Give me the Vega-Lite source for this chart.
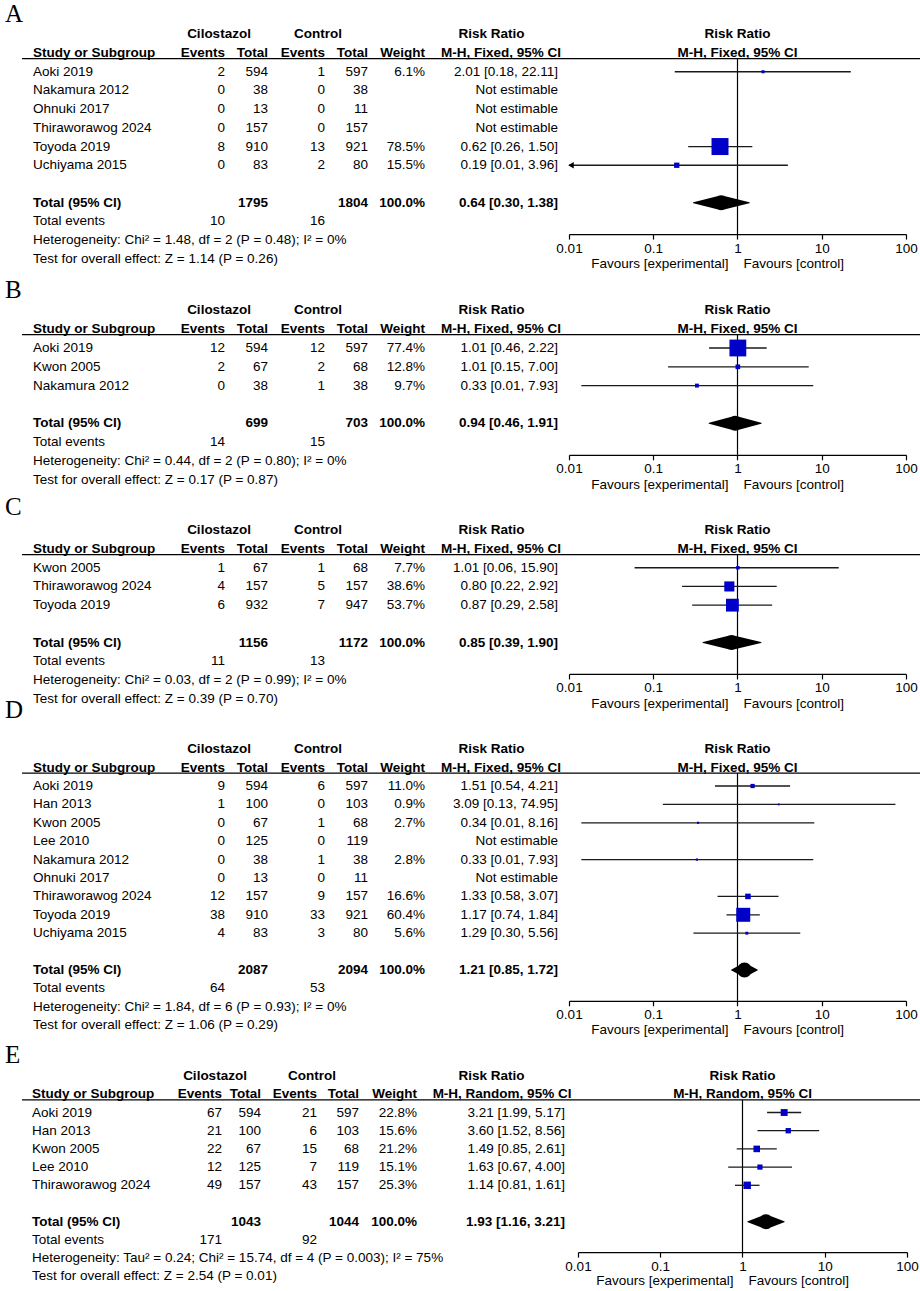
{
"$schema":"https://vega.github.io/schema/vega-lite/v6.json",
"background":"white",
"padding":{"left":5,"top":2,"right":0,"bottom":0},
"config":{"view":{"stroke":null},"text":{"font":"Liberation Sans","fontSize":13.5,"color":"#000","baseline":"middle"},"rule":{"color":"#000","strokeWidth":1.2}},
"datasets":{"t":[
{"p":"A","line":"h1","kind":"h1","e1":"Cilostazol","e2":"Control","ci":"Risk Ratio"},
{"p":"A","line":"h2","kind":"h2","s":"Study or Subgroup","e1":"Events","n1":"Total","e2":"Events","n2":"Total","w":"Weight","ci":"M-H, Fixed, 95% CI"},
{"p":"A","line":"Aoki 2019","kind":"study","s":"Aoki 2019","e1":2,"n1":594,"e2":1,"n2":597,"w":0.061,"ci":"2.01 [0.18, 22.11]","rr":2.01,"lo":0.18,"hi":22.11},
{"p":"A","line":"Nakamura 2012","kind":"study","s":"Nakamura 2012","e1":0,"n1":38,"e2":0,"n2":38,"ci":"Not estimable"},
{"p":"A","line":"Ohnuki 2017","kind":"study","s":"Ohnuki 2017","e1":0,"n1":13,"e2":0,"n2":11,"ci":"Not estimable"},
{"p":"A","line":"Thiraworawog 2024","kind":"study","s":"Thiraworawog 2024","e1":0,"n1":157,"e2":0,"n2":157,"ci":"Not estimable"},
{"p":"A","line":"Toyoda 2019","kind":"study","s":"Toyoda 2019","e1":8,"n1":910,"e2":13,"n2":921,"w":0.785,"ci":"0.62 [0.26, 1.50]","rr":0.62,"lo":0.26,"hi":1.5},
{"p":"A","line":"Uchiyama 2015","kind":"study","s":"Uchiyama 2015","e1":0,"n1":83,"e2":2,"n2":80,"w":0.155,"ci":"0.19 [0.01, 3.96]","rr":0.19,"lo":0.009,"hi":3.96},
{"p":"A","line":"total","kind":"total","s":"Total (95% CI)","n1":1795,"n2":1804,"w":1,"ci":"0.64 [0.30, 1.38]","rr":0.64,"lo":0.3,"hi":1.38},
{"p":"A","line":"events","kind":"events","s":"Total events","e1":10,"e2":16},
{"p":"A","line":"het","kind":"note","s":"Heterogeneity: Chi² = 1.48, df = 2 (P = 0.48); I² = 0%"},
{"p":"A","line":"test","kind":"note","s":"Test for overall effect: Z = 1.14 (P = 0.26)"},
{"p":"B","line":"h1","kind":"h1","e1":"Cilostazol","e2":"Control","ci":"Risk Ratio"},
{"p":"B","line":"h2","kind":"h2","s":"Study or Subgroup","e1":"Events","n1":"Total","e2":"Events","n2":"Total","w":"Weight","ci":"M-H, Fixed, 95% CI"},
{"p":"B","line":"Aoki 2019","kind":"study","s":"Aoki 2019","e1":12,"n1":594,"e2":12,"n2":597,"w":0.774,"ci":"1.01 [0.46, 2.22]","rr":1.01,"lo":0.46,"hi":2.22},
{"p":"B","line":"Kwon 2005","kind":"study","s":"Kwon 2005","e1":2,"n1":67,"e2":2,"n2":68,"w":0.128,"ci":"1.01 [0.15, 7.00]","rr":1.01,"lo":0.15,"hi":7.0},
{"p":"B","line":"Nakamura 2012","kind":"study","s":"Nakamura 2012","e1":0,"n1":38,"e2":1,"n2":38,"w":0.097,"ci":"0.33 [0.01, 7.93]","rr":0.33,"lo":0.014,"hi":7.93},
{"p":"B","line":"total","kind":"total","s":"Total (95% CI)","n1":699,"n2":703,"w":1,"ci":"0.94 [0.46, 1.91]","rr":0.94,"lo":0.46,"hi":1.91},
{"p":"B","line":"events","kind":"events","s":"Total events","e1":14,"e2":15},
{"p":"B","line":"het","kind":"note","s":"Heterogeneity: Chi² = 0.44, df = 2 (P = 0.80); I² = 0%"},
{"p":"B","line":"test","kind":"note","s":"Test for overall effect: Z = 0.17 (P = 0.87)"},
{"p":"C","line":"h1","kind":"h1","e1":"Cilostazol","e2":"Control","ci":"Risk Ratio"},
{"p":"C","line":"h2","kind":"h2","s":"Study or Subgroup","e1":"Events","n1":"Total","e2":"Events","n2":"Total","w":"Weight","ci":"M-H, Fixed, 95% CI"},
{"p":"C","line":"Kwon 2005","kind":"study","s":"Kwon 2005","e1":1,"n1":67,"e2":1,"n2":68,"w":0.077,"ci":"1.01 [0.06, 15.90]","rr":1.01,"lo":0.06,"hi":15.9},
{"p":"C","line":"Thiraworawog 2024","kind":"study","s":"Thiraworawog 2024","e1":4,"n1":157,"e2":5,"n2":157,"w":0.386,"ci":"0.80 [0.22, 2.92]","rr":0.8,"lo":0.22,"hi":2.92},
{"p":"C","line":"Toyoda 2019","kind":"study","s":"Toyoda 2019","e1":6,"n1":932,"e2":7,"n2":947,"w":0.537,"ci":"0.87 [0.29, 2.58]","rr":0.87,"lo":0.29,"hi":2.58},
{"p":"C","line":"total","kind":"total","s":"Total (95% CI)","n1":1156,"n2":1172,"w":1,"ci":"0.85 [0.39, 1.90]","rr":0.85,"lo":0.39,"hi":1.9},
{"p":"C","line":"events","kind":"events","s":"Total events","e1":11,"e2":13},
{"p":"C","line":"het","kind":"note","s":"Heterogeneity: Chi² = 0.03, df = 2 (P = 0.99); I² = 0%"},
{"p":"C","line":"test","kind":"note","s":"Test for overall effect: Z = 0.39 (P = 0.70)"},
{"p":"D","line":"h1","kind":"h1","e1":"Cilostazol","e2":"Control","ci":"Risk Ratio"},
{"p":"D","line":"h2","kind":"h2","s":"Study or Subgroup","e1":"Events","n1":"Total","e2":"Events","n2":"Total","w":"Weight","ci":"M-H, Fixed, 95% CI"},
{"p":"D","line":"Aoki 2019","kind":"study","s":"Aoki 2019","e1":9,"n1":594,"e2":6,"n2":597,"w":0.11,"ci":"1.51 [0.54, 4.21]","rr":1.51,"lo":0.54,"hi":4.21},
{"p":"D","line":"Han 2013","kind":"study","s":"Han 2013","e1":1,"n1":100,"e2":0,"n2":103,"w":0.009,"ci":"3.09 [0.13, 74.95]","rr":3.09,"lo":0.13,"hi":74.95},
{"p":"D","line":"Kwon 2005","kind":"study","s":"Kwon 2005","e1":0,"n1":67,"e2":1,"n2":68,"w":0.027,"ci":"0.34 [0.01, 8.16]","rr":0.34,"lo":0.014,"hi":8.16},
{"p":"D","line":"Lee 2010","kind":"study","s":"Lee 2010","e1":0,"n1":125,"e2":0,"n2":119,"ci":"Not estimable"},
{"p":"D","line":"Nakamura 2012","kind":"study","s":"Nakamura 2012","e1":0,"n1":38,"e2":1,"n2":38,"w":0.028,"ci":"0.33 [0.01, 7.93]","rr":0.33,"lo":0.014,"hi":7.93},
{"p":"D","line":"Ohnuki 2017","kind":"study","s":"Ohnuki 2017","e1":0,"n1":13,"e2":0,"n2":11,"ci":"Not estimable"},
{"p":"D","line":"Thiraworawog 2024","kind":"study","s":"Thiraworawog 2024","e1":12,"n1":157,"e2":9,"n2":157,"w":0.166,"ci":"1.33 [0.58, 3.07]","rr":1.33,"lo":0.58,"hi":3.07},
{"p":"D","line":"Toyoda 2019","kind":"study","s":"Toyoda 2019","e1":38,"n1":910,"e2":33,"n2":921,"w":0.604,"ci":"1.17 [0.74, 1.84]","rr":1.17,"lo":0.74,"hi":1.84},
{"p":"D","line":"Uchiyama 2015","kind":"study","s":"Uchiyama 2015","e1":4,"n1":83,"e2":3,"n2":80,"w":0.056,"ci":"1.29 [0.30, 5.56]","rr":1.29,"lo":0.3,"hi":5.56},
{"p":"D","line":"total","kind":"total","s":"Total (95% CI)","n1":2087,"n2":2094,"w":1,"ci":"1.21 [0.85, 1.72]","rr":1.21,"lo":0.85,"hi":1.72},
{"p":"D","line":"events","kind":"events","s":"Total events","e1":64,"e2":53},
{"p":"D","line":"het","kind":"note","s":"Heterogeneity: Chi² = 1.84, df = 6 (P = 0.93); I² = 0%"},
{"p":"D","line":"test","kind":"note","s":"Test for overall effect: Z = 1.06 (P = 0.29)"},
{"p":"E","line":"h1","kind":"h1","e1":"Cilostazol","e2":"Control","ci":"Risk Ratio"},
{"p":"E","line":"h2","kind":"h2","s":"Study or Subgroup","e1":"Events","n1":"Total","e2":"Events","n2":"Total","w":"Weight","ci":"M-H, Random, 95% CI"},
{"p":"E","line":"Aoki 2019","kind":"study","s":"Aoki 2019","e1":67,"n1":594,"e2":21,"n2":597,"w":0.228,"ci":"3.21 [1.99, 5.17]","rr":3.21,"lo":1.99,"hi":5.17},
{"p":"E","line":"Han 2013","kind":"study","s":"Han 2013","e1":21,"n1":100,"e2":6,"n2":103,"w":0.156,"ci":"3.60 [1.52, 8.56]","rr":3.6,"lo":1.52,"hi":8.56},
{"p":"E","line":"Kwon 2005","kind":"study","s":"Kwon 2005","e1":22,"n1":67,"e2":15,"n2":68,"w":0.212,"ci":"1.49 [0.85, 2.61]","rr":1.49,"lo":0.85,"hi":2.61},
{"p":"E","line":"Lee 2010","kind":"study","s":"Lee 2010","e1":12,"n1":125,"e2":7,"n2":119,"w":0.151,"ci":"1.63 [0.67, 4.00]","rr":1.63,"lo":0.67,"hi":4.0},
{"p":"E","line":"Thiraworawog 2024","kind":"study","s":"Thiraworawog 2024","e1":49,"n1":157,"e2":43,"n2":157,"w":0.253,"ci":"1.14 [0.81, 1.61]","rr":1.14,"lo":0.81,"hi":1.61},
{"p":"E","line":"total","kind":"total","s":"Total (95% CI)","n1":1043,"n2":1044,"w":1,"ci":"1.93 [1.16, 3.21]","rr":1.93,"lo":1.16,"hi":3.21},
{"p":"E","line":"events","kind":"events","s":"Total events","e1":171,"e2":92},
{"p":"E","line":"het","kind":"note","s":"Heterogeneity: Tau² = 0.24; Chi² = 15.74, df = 4 (P = 0.003); I² = 75%"},
{"p":"E","line":"test","kind":"note","s":"Test for overall effect: Z = 2.54 (P = 0.01)"}
]},
"data":{"name":"t"},
"columns":8,
"spacing":{"row":32,"column":0},
"align":"each",
"bounds":"flush",
"concat":[
{"width":148,"height":243.1,"transform":[{"filter":"datum.p==='A'"}],"layer":[
{"transform":[{"filter":"datum.kind!=='h1'"}],"mark":{"type":"text","align":"left","dx":11,"fontWeight":{"expr":"datum.kind==='h2'||datum.kind==='total'?'bold':'normal'"}},"encoding":{"x":{"datum":"Study","type":"nominal","scale":{"type":"point","padding":0,"align":0},"axis":null},"y":{"field":"line","type":"nominal","axis":null,"scale":{"type":"point","padding":0.5,"domain":["h1","h2","Aoki 2019","Nakamura 2012","Ohnuki 2017","Thiraworawog 2024","Toyoda 2019","Uchiyama 2015","blank","total","events","het","test"]}},"text":{"field":"s","type":"nominal"}}},
{"transform":[{"filter":"datum.kind==='h1'"}],"mark":{"type":"text","text":"A","align":"left","font":"Liberation Serif","fontSize":25,"dx":-17,"dy":-20},"encoding":{"x":{"datum":"Study","type":"nominal","axis":null},"y":{"field":"line","type":"nominal","axis":null}}},
{"transform":[{"filter":"datum.kind==='h2'"}],"mark":{"type":"rule","yOffset":5.5},"encoding":{"y":{"field":"line","type":"nominal","axis":null}}}
]},
{"width":55,"height":243.1,"transform":[{"filter":"datum.p==='A'"}],"layer":[
{"transform":[{"filter":"datum.kind!=='h1' && isValid(datum.e1)"}],"mark":{"type":"text","align":"right","fontWeight":{"expr":"datum.kind==='h2'||datum.kind==='total'?'bold':'normal'"}},"encoding":{"x":{"value":"width"},"y":{"field":"line","type":"nominal","axis":null,"scale":{"type":"point","padding":0.5,"domain":["h1","h2","Aoki 2019","Nakamura 2012","Ohnuki 2017","Thiraworawog 2024","Toyoda 2019","Uchiyama 2015","blank","total","events","het","test"]}},"text":{"field":"e1","type":"nominal"}}},
{"transform":[{"filter":"datum.kind==='h1'"}],"mark":{"type":"text","align":"center","fontWeight":"bold","dx":-6},"encoding":{"x":{"value":"width"},"y":{"field":"line","type":"nominal","axis":null},"text":{"field":"e1","type":"nominal"}}},
{"transform":[{"filter":"datum.kind==='h2'"}],"mark":{"type":"rule","yOffset":5.5},"encoding":{"y":{"field":"line","type":"nominal","axis":null}}}
]},
{"width":43,"height":243.1,"transform":[{"filter":"datum.p==='A'"}],"layer":[
{"transform":[{"filter":"datum.kind!=='h1' && isValid(datum.n1)"}],"mark":{"type":"text","align":"right","fontWeight":{"expr":"datum.kind==='h2'||datum.kind==='total'?'bold':'normal'"}},"encoding":{"x":{"value":"width"},"y":{"field":"line","type":"nominal","axis":null,"scale":{"type":"point","padding":0.5,"domain":["h1","h2","Aoki 2019","Nakamura 2012","Ohnuki 2017","Thiraworawog 2024","Toyoda 2019","Uchiyama 2015","blank","total","events","het","test"]}},"text":{"field":"n1","type":"nominal"}}},
{"transform":[{"filter":"datum.kind==='h2'"}],"mark":{"type":"rule","yOffset":5.5},"encoding":{"y":{"field":"line","type":"nominal","axis":null}}}
]},
{"width":57,"height":243.1,"transform":[{"filter":"datum.p==='A'"}],"layer":[
{"transform":[{"filter":"datum.kind!=='h1' && isValid(datum.e2)"}],"mark":{"type":"text","align":"right","fontWeight":{"expr":"datum.kind==='h2'||datum.kind==='total'?'bold':'normal'"}},"encoding":{"x":{"value":"width"},"y":{"field":"line","type":"nominal","axis":null,"scale":{"type":"point","padding":0.5,"domain":["h1","h2","Aoki 2019","Nakamura 2012","Ohnuki 2017","Thiraworawog 2024","Toyoda 2019","Uchiyama 2015","blank","total","events","het","test"]}},"text":{"field":"e2","type":"nominal"}}},
{"transform":[{"filter":"datum.kind==='h1'"}],"mark":{"type":"text","align":"center","fontWeight":"bold","dx":-7},"encoding":{"x":{"value":"width"},"y":{"field":"line","type":"nominal","axis":null},"text":{"field":"e2","type":"nominal"}}},
{"transform":[{"filter":"datum.kind==='h2'"}],"mark":{"type":"rule","yOffset":5.5},"encoding":{"y":{"field":"line","type":"nominal","axis":null}}}
]},
{"width":43,"height":243.1,"transform":[{"filter":"datum.p==='A'"}],"layer":[
{"transform":[{"filter":"datum.kind!=='h1' && isValid(datum.n2)"}],"mark":{"type":"text","align":"right","fontWeight":{"expr":"datum.kind==='h2'||datum.kind==='total'?'bold':'normal'"}},"encoding":{"x":{"value":"width"},"y":{"field":"line","type":"nominal","axis":null,"scale":{"type":"point","padding":0.5,"domain":["h1","h2","Aoki 2019","Nakamura 2012","Ohnuki 2017","Thiraworawog 2024","Toyoda 2019","Uchiyama 2015","blank","total","events","het","test"]}},"text":{"field":"n2","type":"nominal"}}},
{"transform":[{"filter":"datum.kind==='h2'"}],"mark":{"type":"rule","yOffset":5.5},"encoding":{"y":{"field":"line","type":"nominal","axis":null}}}
]},
{"width":57,"height":243.1,"transform":[{"filter":"datum.p==='A'"}],"layer":[
{"transform":[{"filter":"(datum.kind==='study'||datum.kind==='total') && isValid(datum.w)"}],"mark":{"type":"text","align":"right","fontWeight":{"expr":"datum.kind==='total'?'bold':'normal'"}},"encoding":{"x":{"value":"width"},"y":{"field":"line","type":"nominal","axis":null,"scale":{"type":"point","padding":0.5,"domain":["h1","h2","Aoki 2019","Nakamura 2012","Ohnuki 2017","Thiraworawog 2024","Toyoda 2019","Uchiyama 2015","blank","total","events","het","test"]}},"text":{"field":"w","type":"quantitative","format":".1%"}}},
{"transform":[{"filter":"datum.kind==='h2'"}],"mark":{"type":"text","align":"right","fontWeight":"bold"},"encoding":{"x":{"value":"width"},"y":{"field":"line","type":"nominal","axis":null},"text":{"field":"w","type":"nominal"}}},
{"transform":[{"filter":"datum.kind==='h2'"}],"mark":{"type":"rule","yOffset":5.5},"encoding":{"y":{"field":"line","type":"nominal","axis":null}}}
]},
{"width":133,"height":243.1,"transform":[{"filter":"datum.p==='A'"}],"layer":[
{"transform":[{"filter":"datum.kind==='study'||datum.kind==='total'"}],"mark":{"type":"text","align":"right","fontWeight":{"expr":"datum.kind==='total'?'bold':'normal'"}},"encoding":{"x":{"value":"width"},"y":{"field":"line","type":"nominal","axis":null,"scale":{"type":"point","padding":0.5,"domain":["h1","h2","Aoki 2019","Nakamura 2012","Ohnuki 2017","Thiraworawog 2024","Toyoda 2019","Uchiyama 2015","blank","total","events","het","test"]}},"text":{"field":"ci","type":"nominal"}}},
{"transform":[{"filter":"datum.kind==='h1'"}],"mark":{"type":"text","align":"center","fontWeight":"bold"},"encoding":{"y":{"field":"line","type":"nominal","axis":null},"text":{"field":"ci","type":"nominal"}}},
{"transform":[{"filter":"datum.kind==='h2'"}],"mark":{"type":"text","align":"center","fontWeight":"bold","dx":9.5},"encoding":{"y":{"field":"line","type":"nominal","axis":null},"text":{"field":"ci","type":"nominal"}}},
{"transform":[{"filter":"datum.kind==='h2'"}],"mark":{"type":"rule","yOffset":5.5},"encoding":{"y":{"field":"line","type":"nominal","axis":null}}}
]},
{"width":362,"height":243.1,"transform":[{"filter":"datum.p==='A'"}],"layer":[
{"transform":[{"filter":"datum.kind==='h1'||datum.kind==='h2'"}],"mark":{"type":"text","align":"center","fontWeight":"bold"},"encoding":{"x":{"datum":1,"type":"quantitative","scale":{"type":"log","domain":[0.01,100],"range":[11,348],"clamp":true,"nice":false},"axis":{"orient":"bottom","offset":-34.05,"values":[0.01,0.1,1,10,100],"format":"~g","title":null,"grid":false,"labelFont":"Liberation Sans","labelFontSize":13.5,"labelColor":"#000","labelPadding":2,"labelFlush":false,"labelOverlap":false,"domainColor":"#000","domainWidth":1.2,"tickColor":"#000","tickWidth":1.2,"tickSize":5}},"y":{"field":"line","type":"nominal","axis":null,"scale":{"type":"point","padding":0.5,"domain":["h1","h2","Aoki 2019","Nakamura 2012","Ohnuki 2017","Thiraworawog 2024","Toyoda 2019","Uchiyama 2015","blank","total","events","het","test"]}},"text":{"field":"ci","type":"nominal"}}},
{"transform":[{"filter":"datum.kind==='h2'"}],"mark":{"type":"rule","yOffset":5.5},"encoding":{"y":{"field":"line","type":"nominal","axis":null}}},
{"transform":[{"filter":"datum.kind==='h2'"}],"mark":{"type":"rule","yOffset":5.5,"y2Offset":-6},"encoding":{"x":{"datum":1,"type":"quantitative"},"y":{"field":"line","type":"nominal","axis":null},"y2":{"datum":"het"}}},
{"transform":[{"filter":"datum.kind==='study' && isValid(datum.rr)"}],"mark":{"type":"rule","strokeWidth":1.3,"color":"#1a1a1a"},"encoding":{"x":{"field":"lo","type":"quantitative","title":null},"x2":{"field":"hi"},"y":{"field":"line","type":"nominal","axis":null}}},
{"transform":[{"filter":"datum.kind==='study' && isValid(datum.lo) && datum.lo < 0.01"}],"mark":{"type":"point","shape":"triangle-left","filled":true,"size":40,"color":"#000","opacity":1,"xOffset":2},"encoding":{"x":{"field":"lo","type":"quantitative","title":null},"y":{"field":"line","type":"nominal","axis":null}}},
{"transform":[{"filter":"datum.kind==='study' && isValid(datum.rr)"}],"mark":{"type":"square","filled":true,"color":"#0000C8","opacity":1},"encoding":{"x":{"field":"rr","type":"quantitative","title":null},"y":{"field":"line","type":"nominal","axis":null},"size":{"field":"w","type":"quantitative","scale":{"type":"pow","exponent":1.5,"domain":[0,1],"range":[3,414]},"legend":null}}},
{"transform":[{"filter":"datum.kind==='total'"},{"fold":["lo","rr","hi"],"as":["k","v"]}],"mark":{"type":"trail","color":"#000"},"encoding":{"x":{"field":"v","type":"quantitative","title":null},"y":{"field":"line","type":"nominal","axis":null},"size":{"condition":{"test":"datum.k==='rr'","value":15},"value":0}}},
{"transform":[{"filter":"datum.line==='test'"}],"mark":{"type":"text","text":"Favours [experimental]","align":"right","dx":-9,"dy":5},"encoding":{"x":{"datum":1,"type":"quantitative"},"y":{"field":"line","type":"nominal","axis":null}}},
{"transform":[{"filter":"datum.line==='test'"}],"mark":{"type":"text","text":"Favours [control]","align":"left","dx":6,"dy":5},"encoding":{"x":{"datum":1,"type":"quantitative"},"y":{"field":"line","type":"nominal","axis":null}}}
]},

{"width":148,"height":188,"transform":[{"filter":"datum.p==='B'"}],"layer":[
{"transform":[{"filter":"datum.kind!=='h1'"}],"mark":{"type":"text","align":"left","dx":11,"fontWeight":{"expr":"datum.kind==='h2'||datum.kind==='total'?'bold':'normal'"}},"encoding":{"x":{"datum":"Study","type":"nominal","scale":{"type":"point","padding":0,"align":0},"axis":null},"y":{"field":"line","type":"nominal","axis":null,"scale":{"type":"point","padding":0.5,"domain":["h1","h2","Aoki 2019","Kwon 2005","Nakamura 2012","blank","total","events","het","test"]}},"text":{"field":"s","type":"nominal"}}},
{"transform":[{"filter":"datum.kind==='h1'"}],"mark":{"type":"text","text":"B","align":"left","font":"Liberation Serif","fontSize":25,"dx":-17,"dy":-20},"encoding":{"x":{"datum":"Study","type":"nominal","axis":null},"y":{"field":"line","type":"nominal","axis":null}}},
{"transform":[{"filter":"datum.kind==='h2'"}],"mark":{"type":"rule","yOffset":5.5},"encoding":{"y":{"field":"line","type":"nominal","axis":null}}}
]},
{"width":55,"height":188,"transform":[{"filter":"datum.p==='B'"}],"layer":[
{"transform":[{"filter":"datum.kind!=='h1' && isValid(datum.e1)"}],"mark":{"type":"text","align":"right","fontWeight":{"expr":"datum.kind==='h2'||datum.kind==='total'?'bold':'normal'"}},"encoding":{"x":{"value":"width"},"y":{"field":"line","type":"nominal","axis":null,"scale":{"type":"point","padding":0.5,"domain":["h1","h2","Aoki 2019","Kwon 2005","Nakamura 2012","blank","total","events","het","test"]}},"text":{"field":"e1","type":"nominal"}}},
{"transform":[{"filter":"datum.kind==='h1'"}],"mark":{"type":"text","align":"center","fontWeight":"bold","dx":-6},"encoding":{"x":{"value":"width"},"y":{"field":"line","type":"nominal","axis":null},"text":{"field":"e1","type":"nominal"}}},
{"transform":[{"filter":"datum.kind==='h2'"}],"mark":{"type":"rule","yOffset":5.5},"encoding":{"y":{"field":"line","type":"nominal","axis":null}}}
]},
{"width":43,"height":188,"transform":[{"filter":"datum.p==='B'"}],"layer":[
{"transform":[{"filter":"datum.kind!=='h1' && isValid(datum.n1)"}],"mark":{"type":"text","align":"right","fontWeight":{"expr":"datum.kind==='h2'||datum.kind==='total'?'bold':'normal'"}},"encoding":{"x":{"value":"width"},"y":{"field":"line","type":"nominal","axis":null,"scale":{"type":"point","padding":0.5,"domain":["h1","h2","Aoki 2019","Kwon 2005","Nakamura 2012","blank","total","events","het","test"]}},"text":{"field":"n1","type":"nominal"}}},
{"transform":[{"filter":"datum.kind==='h2'"}],"mark":{"type":"rule","yOffset":5.5},"encoding":{"y":{"field":"line","type":"nominal","axis":null}}}
]},
{"width":57,"height":188,"transform":[{"filter":"datum.p==='B'"}],"layer":[
{"transform":[{"filter":"datum.kind!=='h1' && isValid(datum.e2)"}],"mark":{"type":"text","align":"right","fontWeight":{"expr":"datum.kind==='h2'||datum.kind==='total'?'bold':'normal'"}},"encoding":{"x":{"value":"width"},"y":{"field":"line","type":"nominal","axis":null,"scale":{"type":"point","padding":0.5,"domain":["h1","h2","Aoki 2019","Kwon 2005","Nakamura 2012","blank","total","events","het","test"]}},"text":{"field":"e2","type":"nominal"}}},
{"transform":[{"filter":"datum.kind==='h1'"}],"mark":{"type":"text","align":"center","fontWeight":"bold","dx":-7},"encoding":{"x":{"value":"width"},"y":{"field":"line","type":"nominal","axis":null},"text":{"field":"e2","type":"nominal"}}},
{"transform":[{"filter":"datum.kind==='h2'"}],"mark":{"type":"rule","yOffset":5.5},"encoding":{"y":{"field":"line","type":"nominal","axis":null}}}
]},
{"width":43,"height":188,"transform":[{"filter":"datum.p==='B'"}],"layer":[
{"transform":[{"filter":"datum.kind!=='h1' && isValid(datum.n2)"}],"mark":{"type":"text","align":"right","fontWeight":{"expr":"datum.kind==='h2'||datum.kind==='total'?'bold':'normal'"}},"encoding":{"x":{"value":"width"},"y":{"field":"line","type":"nominal","axis":null,"scale":{"type":"point","padding":0.5,"domain":["h1","h2","Aoki 2019","Kwon 2005","Nakamura 2012","blank","total","events","het","test"]}},"text":{"field":"n2","type":"nominal"}}},
{"transform":[{"filter":"datum.kind==='h2'"}],"mark":{"type":"rule","yOffset":5.5},"encoding":{"y":{"field":"line","type":"nominal","axis":null}}}
]},
{"width":57,"height":188,"transform":[{"filter":"datum.p==='B'"}],"layer":[
{"transform":[{"filter":"(datum.kind==='study'||datum.kind==='total') && isValid(datum.w)"}],"mark":{"type":"text","align":"right","fontWeight":{"expr":"datum.kind==='total'?'bold':'normal'"}},"encoding":{"x":{"value":"width"},"y":{"field":"line","type":"nominal","axis":null,"scale":{"type":"point","padding":0.5,"domain":["h1","h2","Aoki 2019","Kwon 2005","Nakamura 2012","blank","total","events","het","test"]}},"text":{"field":"w","type":"quantitative","format":".1%"}}},
{"transform":[{"filter":"datum.kind==='h2'"}],"mark":{"type":"text","align":"right","fontWeight":"bold"},"encoding":{"x":{"value":"width"},"y":{"field":"line","type":"nominal","axis":null},"text":{"field":"w","type":"nominal"}}},
{"transform":[{"filter":"datum.kind==='h2'"}],"mark":{"type":"rule","yOffset":5.5},"encoding":{"y":{"field":"line","type":"nominal","axis":null}}}
]},
{"width":133,"height":188,"transform":[{"filter":"datum.p==='B'"}],"layer":[
{"transform":[{"filter":"datum.kind==='study'||datum.kind==='total'"}],"mark":{"type":"text","align":"right","fontWeight":{"expr":"datum.kind==='total'?'bold':'normal'"}},"encoding":{"x":{"value":"width"},"y":{"field":"line","type":"nominal","axis":null,"scale":{"type":"point","padding":0.5,"domain":["h1","h2","Aoki 2019","Kwon 2005","Nakamura 2012","blank","total","events","het","test"]}},"text":{"field":"ci","type":"nominal"}}},
{"transform":[{"filter":"datum.kind==='h1'"}],"mark":{"type":"text","align":"center","fontWeight":"bold"},"encoding":{"y":{"field":"line","type":"nominal","axis":null},"text":{"field":"ci","type":"nominal"}}},
{"transform":[{"filter":"datum.kind==='h2'"}],"mark":{"type":"text","align":"center","fontWeight":"bold","dx":9.5},"encoding":{"y":{"field":"line","type":"nominal","axis":null},"text":{"field":"ci","type":"nominal"}}},
{"transform":[{"filter":"datum.kind==='h2'"}],"mark":{"type":"rule","yOffset":5.5},"encoding":{"y":{"field":"line","type":"nominal","axis":null}}}
]},
{"width":362,"height":188,"transform":[{"filter":"datum.p==='B'"}],"layer":[
{"transform":[{"filter":"datum.kind==='h1'||datum.kind==='h2'"}],"mark":{"type":"text","align":"center","fontWeight":"bold"},"encoding":{"x":{"datum":1,"type":"quantitative","scale":{"type":"log","domain":[0.01,100],"range":[11,348],"clamp":true,"nice":false},"axis":{"orient":"bottom","offset":-34.2,"values":[0.01,0.1,1,10,100],"format":"~g","title":null,"grid":false,"labelFont":"Liberation Sans","labelFontSize":13.5,"labelColor":"#000","labelPadding":2,"labelFlush":false,"labelOverlap":false,"domainColor":"#000","domainWidth":1.2,"tickColor":"#000","tickWidth":1.2,"tickSize":5}},"y":{"field":"line","type":"nominal","axis":null,"scale":{"type":"point","padding":0.5,"domain":["h1","h2","Aoki 2019","Kwon 2005","Nakamura 2012","blank","total","events","het","test"]}},"text":{"field":"ci","type":"nominal"}}},
{"transform":[{"filter":"datum.kind==='h2'"}],"mark":{"type":"rule","yOffset":5.5},"encoding":{"y":{"field":"line","type":"nominal","axis":null}}},
{"transform":[{"filter":"datum.kind==='h2'"}],"mark":{"type":"rule","yOffset":5.5,"y2Offset":-6},"encoding":{"x":{"datum":1,"type":"quantitative"},"y":{"field":"line","type":"nominal","axis":null},"y2":{"datum":"het"}}},
{"transform":[{"filter":"datum.kind==='study' && isValid(datum.rr)"}],"mark":{"type":"rule","strokeWidth":1.3,"color":"#1a1a1a"},"encoding":{"x":{"field":"lo","type":"quantitative","title":null},"x2":{"field":"hi"},"y":{"field":"line","type":"nominal","axis":null}}},
{"transform":[{"filter":"datum.kind==='study' && isValid(datum.rr)"}],"mark":{"type":"square","filled":true,"color":"#0000C8","opacity":1},"encoding":{"x":{"field":"rr","type":"quantitative","title":null},"y":{"field":"line","type":"nominal","axis":null},"size":{"field":"w","type":"quantitative","scale":{"type":"pow","exponent":1.5,"domain":[0,1],"range":[3,414]},"legend":null}}},
{"transform":[{"filter":"datum.kind==='total'"},{"fold":["lo","rr","hi"],"as":["k","v"]}],"mark":{"type":"trail","color":"#000"},"encoding":{"x":{"field":"v","type":"quantitative","title":null},"y":{"field":"line","type":"nominal","axis":null},"size":{"condition":{"test":"datum.k==='rr'","value":15},"value":0}}},
{"transform":[{"filter":"datum.line==='test'"}],"mark":{"type":"text","text":"Favours [experimental]","align":"right","dx":-9,"dy":5},"encoding":{"x":{"datum":1,"type":"quantitative"},"y":{"field":"line","type":"nominal","axis":null}}},
{"transform":[{"filter":"datum.line==='test'"}],"mark":{"type":"text","text":"Favours [control]","align":"left","dx":6,"dy":5},"encoding":{"x":{"datum":1,"type":"quantitative"},"y":{"field":"line","type":"nominal","axis":null}}}
]},

{"width":148,"height":187,"transform":[{"filter":"datum.p==='C'"}],"layer":[
{"transform":[{"filter":"datum.kind!=='h1'"}],"mark":{"type":"text","align":"left","dx":11,"fontWeight":{"expr":"datum.kind==='h2'||datum.kind==='total'?'bold':'normal'"}},"encoding":{"x":{"datum":"Study","type":"nominal","scale":{"type":"point","padding":0,"align":0},"axis":null},"y":{"field":"line","type":"nominal","axis":null,"scale":{"type":"point","padding":0.5,"domain":["h1","h2","Kwon 2005","Thiraworawog 2024","Toyoda 2019","blank","total","events","het","test"]}},"text":{"field":"s","type":"nominal"}}},
{"transform":[{"filter":"datum.kind==='h1'"}],"mark":{"type":"text","text":"C","align":"left","font":"Liberation Serif","fontSize":25,"dx":-17,"dy":-23},"encoding":{"x":{"datum":"Study","type":"nominal","axis":null},"y":{"field":"line","type":"nominal","axis":null}}},
{"transform":[{"filter":"datum.kind==='h2'"}],"mark":{"type":"rule","yOffset":5.5},"encoding":{"y":{"field":"line","type":"nominal","axis":null}}}
]},
{"width":55,"height":187,"transform":[{"filter":"datum.p==='C'"}],"layer":[
{"transform":[{"filter":"datum.kind!=='h1' && isValid(datum.e1)"}],"mark":{"type":"text","align":"right","fontWeight":{"expr":"datum.kind==='h2'||datum.kind==='total'?'bold':'normal'"}},"encoding":{"x":{"value":"width"},"y":{"field":"line","type":"nominal","axis":null,"scale":{"type":"point","padding":0.5,"domain":["h1","h2","Kwon 2005","Thiraworawog 2024","Toyoda 2019","blank","total","events","het","test"]}},"text":{"field":"e1","type":"nominal"}}},
{"transform":[{"filter":"datum.kind==='h1'"}],"mark":{"type":"text","align":"center","fontWeight":"bold","dx":-6},"encoding":{"x":{"value":"width"},"y":{"field":"line","type":"nominal","axis":null},"text":{"field":"e1","type":"nominal"}}},
{"transform":[{"filter":"datum.kind==='h2'"}],"mark":{"type":"rule","yOffset":5.5},"encoding":{"y":{"field":"line","type":"nominal","axis":null}}}
]},
{"width":43,"height":187,"transform":[{"filter":"datum.p==='C'"}],"layer":[
{"transform":[{"filter":"datum.kind!=='h1' && isValid(datum.n1)"}],"mark":{"type":"text","align":"right","fontWeight":{"expr":"datum.kind==='h2'||datum.kind==='total'?'bold':'normal'"}},"encoding":{"x":{"value":"width"},"y":{"field":"line","type":"nominal","axis":null,"scale":{"type":"point","padding":0.5,"domain":["h1","h2","Kwon 2005","Thiraworawog 2024","Toyoda 2019","blank","total","events","het","test"]}},"text":{"field":"n1","type":"nominal"}}},
{"transform":[{"filter":"datum.kind==='h2'"}],"mark":{"type":"rule","yOffset":5.5},"encoding":{"y":{"field":"line","type":"nominal","axis":null}}}
]},
{"width":57,"height":187,"transform":[{"filter":"datum.p==='C'"}],"layer":[
{"transform":[{"filter":"datum.kind!=='h1' && isValid(datum.e2)"}],"mark":{"type":"text","align":"right","fontWeight":{"expr":"datum.kind==='h2'||datum.kind==='total'?'bold':'normal'"}},"encoding":{"x":{"value":"width"},"y":{"field":"line","type":"nominal","axis":null,"scale":{"type":"point","padding":0.5,"domain":["h1","h2","Kwon 2005","Thiraworawog 2024","Toyoda 2019","blank","total","events","het","test"]}},"text":{"field":"e2","type":"nominal"}}},
{"transform":[{"filter":"datum.kind==='h1'"}],"mark":{"type":"text","align":"center","fontWeight":"bold","dx":-7},"encoding":{"x":{"value":"width"},"y":{"field":"line","type":"nominal","axis":null},"text":{"field":"e2","type":"nominal"}}},
{"transform":[{"filter":"datum.kind==='h2'"}],"mark":{"type":"rule","yOffset":5.5},"encoding":{"y":{"field":"line","type":"nominal","axis":null}}}
]},
{"width":43,"height":187,"transform":[{"filter":"datum.p==='C'"}],"layer":[
{"transform":[{"filter":"datum.kind!=='h1' && isValid(datum.n2)"}],"mark":{"type":"text","align":"right","fontWeight":{"expr":"datum.kind==='h2'||datum.kind==='total'?'bold':'normal'"}},"encoding":{"x":{"value":"width"},"y":{"field":"line","type":"nominal","axis":null,"scale":{"type":"point","padding":0.5,"domain":["h1","h2","Kwon 2005","Thiraworawog 2024","Toyoda 2019","blank","total","events","het","test"]}},"text":{"field":"n2","type":"nominal"}}},
{"transform":[{"filter":"datum.kind==='h2'"}],"mark":{"type":"rule","yOffset":5.5},"encoding":{"y":{"field":"line","type":"nominal","axis":null}}}
]},
{"width":57,"height":187,"transform":[{"filter":"datum.p==='C'"}],"layer":[
{"transform":[{"filter":"(datum.kind==='study'||datum.kind==='total') && isValid(datum.w)"}],"mark":{"type":"text","align":"right","fontWeight":{"expr":"datum.kind==='total'?'bold':'normal'"}},"encoding":{"x":{"value":"width"},"y":{"field":"line","type":"nominal","axis":null,"scale":{"type":"point","padding":0.5,"domain":["h1","h2","Kwon 2005","Thiraworawog 2024","Toyoda 2019","blank","total","events","het","test"]}},"text":{"field":"w","type":"quantitative","format":".1%"}}},
{"transform":[{"filter":"datum.kind==='h2'"}],"mark":{"type":"text","align":"right","fontWeight":"bold"},"encoding":{"x":{"value":"width"},"y":{"field":"line","type":"nominal","axis":null},"text":{"field":"w","type":"nominal"}}},
{"transform":[{"filter":"datum.kind==='h2'"}],"mark":{"type":"rule","yOffset":5.5},"encoding":{"y":{"field":"line","type":"nominal","axis":null}}}
]},
{"width":133,"height":187,"transform":[{"filter":"datum.p==='C'"}],"layer":[
{"transform":[{"filter":"datum.kind==='study'||datum.kind==='total'"}],"mark":{"type":"text","align":"right","fontWeight":{"expr":"datum.kind==='total'?'bold':'normal'"}},"encoding":{"x":{"value":"width"},"y":{"field":"line","type":"nominal","axis":null,"scale":{"type":"point","padding":0.5,"domain":["h1","h2","Kwon 2005","Thiraworawog 2024","Toyoda 2019","blank","total","events","het","test"]}},"text":{"field":"ci","type":"nominal"}}},
{"transform":[{"filter":"datum.kind==='h1'"}],"mark":{"type":"text","align":"center","fontWeight":"bold"},"encoding":{"y":{"field":"line","type":"nominal","axis":null},"text":{"field":"ci","type":"nominal"}}},
{"transform":[{"filter":"datum.kind==='h2'"}],"mark":{"type":"text","align":"center","fontWeight":"bold","dx":9.5},"encoding":{"y":{"field":"line","type":"nominal","axis":null},"text":{"field":"ci","type":"nominal"}}},
{"transform":[{"filter":"datum.kind==='h2'"}],"mark":{"type":"rule","yOffset":5.5},"encoding":{"y":{"field":"line","type":"nominal","axis":null}}}
]},
{"width":362,"height":187,"transform":[{"filter":"datum.p==='C'"}],"layer":[
{"transform":[{"filter":"datum.kind==='h1'||datum.kind==='h2'"}],"mark":{"type":"text","align":"center","fontWeight":"bold"},"encoding":{"x":{"datum":1,"type":"quantitative","scale":{"type":"log","domain":[0.01,100],"range":[11,348],"clamp":true,"nice":false},"axis":{"orient":"bottom","offset":-34.05,"values":[0.01,0.1,1,10,100],"format":"~g","title":null,"grid":false,"labelFont":"Liberation Sans","labelFontSize":13.5,"labelColor":"#000","labelPadding":2,"labelFlush":false,"labelOverlap":false,"domainColor":"#000","domainWidth":1.2,"tickColor":"#000","tickWidth":1.2,"tickSize":5}},"y":{"field":"line","type":"nominal","axis":null,"scale":{"type":"point","padding":0.5,"domain":["h1","h2","Kwon 2005","Thiraworawog 2024","Toyoda 2019","blank","total","events","het","test"]}},"text":{"field":"ci","type":"nominal"}}},
{"transform":[{"filter":"datum.kind==='h2'"}],"mark":{"type":"rule","yOffset":5.5},"encoding":{"y":{"field":"line","type":"nominal","axis":null}}},
{"transform":[{"filter":"datum.kind==='h2'"}],"mark":{"type":"rule","yOffset":5.5,"y2Offset":-6},"encoding":{"x":{"datum":1,"type":"quantitative"},"y":{"field":"line","type":"nominal","axis":null},"y2":{"datum":"het"}}},
{"transform":[{"filter":"datum.kind==='study' && isValid(datum.rr)"}],"mark":{"type":"rule","strokeWidth":1.3,"color":"#1a1a1a"},"encoding":{"x":{"field":"lo","type":"quantitative","title":null},"x2":{"field":"hi"},"y":{"field":"line","type":"nominal","axis":null}}},
{"transform":[{"filter":"datum.kind==='study' && isValid(datum.rr)"}],"mark":{"type":"square","filled":true,"color":"#0000C8","opacity":1},"encoding":{"x":{"field":"rr","type":"quantitative","title":null},"y":{"field":"line","type":"nominal","axis":null},"size":{"field":"w","type":"quantitative","scale":{"type":"pow","exponent":1.5,"domain":[0,1],"range":[3,414]},"legend":null}}},
{"transform":[{"filter":"datum.kind==='total'"},{"fold":["lo","rr","hi"],"as":["k","v"]}],"mark":{"type":"trail","color":"#000"},"encoding":{"x":{"field":"v","type":"quantitative","title":null},"y":{"field":"line","type":"nominal","axis":null},"size":{"condition":{"test":"datum.k==='rr'","value":15},"value":0}}},
{"transform":[{"filter":"datum.line==='test'"}],"mark":{"type":"text","text":"Favours [experimental]","align":"right","dx":-9,"dy":5},"encoding":{"x":{"datum":1,"type":"quantitative"},"y":{"field":"line","type":"nominal","axis":null}}},
{"transform":[{"filter":"datum.line==='test'"}],"mark":{"type":"text","text":"Favours [control]","align":"left","dx":6,"dy":5},"encoding":{"x":{"datum":1,"type":"quantitative"},"y":{"field":"line","type":"nominal","axis":null}}}
]},

{"width":148,"height":294.4,"transform":[{"filter":"datum.p==='D'"}],"layer":[
{"transform":[{"filter":"datum.kind!=='h1'"}],"mark":{"type":"text","align":"left","dx":11,"fontWeight":{"expr":"datum.kind==='h2'||datum.kind==='total'?'bold':'normal'"}},"encoding":{"x":{"datum":"Study","type":"nominal","scale":{"type":"point","padding":0,"align":0},"axis":null},"y":{"field":"line","type":"nominal","axis":null,"scale":{"type":"point","padding":0.5,"domain":["h1","h2","Aoki 2019","Han 2013","Kwon 2005","Lee 2010","Nakamura 2012","Ohnuki 2017","Thiraworawog 2024","Toyoda 2019","Uchiyama 2015","blank","total","events","het","test"]}},"text":{"field":"s","type":"nominal"}}},
{"transform":[{"filter":"datum.kind==='h1'"}],"mark":{"type":"text","text":"D","align":"left","font":"Liberation Serif","fontSize":25,"dx":-17,"dy":-39},"encoding":{"x":{"datum":"Study","type":"nominal","axis":null},"y":{"field":"line","type":"nominal","axis":null}}},
{"transform":[{"filter":"datum.kind==='h2'"}],"mark":{"type":"rule","yOffset":5.5},"encoding":{"y":{"field":"line","type":"nominal","axis":null}}}
]},
{"width":55,"height":294.4,"transform":[{"filter":"datum.p==='D'"}],"layer":[
{"transform":[{"filter":"datum.kind!=='h1' && isValid(datum.e1)"}],"mark":{"type":"text","align":"right","fontWeight":{"expr":"datum.kind==='h2'||datum.kind==='total'?'bold':'normal'"}},"encoding":{"x":{"value":"width"},"y":{"field":"line","type":"nominal","axis":null,"scale":{"type":"point","padding":0.5,"domain":["h1","h2","Aoki 2019","Han 2013","Kwon 2005","Lee 2010","Nakamura 2012","Ohnuki 2017","Thiraworawog 2024","Toyoda 2019","Uchiyama 2015","blank","total","events","het","test"]}},"text":{"field":"e1","type":"nominal"}}},
{"transform":[{"filter":"datum.kind==='h1'"}],"mark":{"type":"text","align":"center","fontWeight":"bold","dx":-6},"encoding":{"x":{"value":"width"},"y":{"field":"line","type":"nominal","axis":null},"text":{"field":"e1","type":"nominal"}}},
{"transform":[{"filter":"datum.kind==='h2'"}],"mark":{"type":"rule","yOffset":5.5},"encoding":{"y":{"field":"line","type":"nominal","axis":null}}}
]},
{"width":43,"height":294.4,"transform":[{"filter":"datum.p==='D'"}],"layer":[
{"transform":[{"filter":"datum.kind!=='h1' && isValid(datum.n1)"}],"mark":{"type":"text","align":"right","fontWeight":{"expr":"datum.kind==='h2'||datum.kind==='total'?'bold':'normal'"}},"encoding":{"x":{"value":"width"},"y":{"field":"line","type":"nominal","axis":null,"scale":{"type":"point","padding":0.5,"domain":["h1","h2","Aoki 2019","Han 2013","Kwon 2005","Lee 2010","Nakamura 2012","Ohnuki 2017","Thiraworawog 2024","Toyoda 2019","Uchiyama 2015","blank","total","events","het","test"]}},"text":{"field":"n1","type":"nominal"}}},
{"transform":[{"filter":"datum.kind==='h2'"}],"mark":{"type":"rule","yOffset":5.5},"encoding":{"y":{"field":"line","type":"nominal","axis":null}}}
]},
{"width":57,"height":294.4,"transform":[{"filter":"datum.p==='D'"}],"layer":[
{"transform":[{"filter":"datum.kind!=='h1' && isValid(datum.e2)"}],"mark":{"type":"text","align":"right","fontWeight":{"expr":"datum.kind==='h2'||datum.kind==='total'?'bold':'normal'"}},"encoding":{"x":{"value":"width"},"y":{"field":"line","type":"nominal","axis":null,"scale":{"type":"point","padding":0.5,"domain":["h1","h2","Aoki 2019","Han 2013","Kwon 2005","Lee 2010","Nakamura 2012","Ohnuki 2017","Thiraworawog 2024","Toyoda 2019","Uchiyama 2015","blank","total","events","het","test"]}},"text":{"field":"e2","type":"nominal"}}},
{"transform":[{"filter":"datum.kind==='h1'"}],"mark":{"type":"text","align":"center","fontWeight":"bold","dx":-7},"encoding":{"x":{"value":"width"},"y":{"field":"line","type":"nominal","axis":null},"text":{"field":"e2","type":"nominal"}}},
{"transform":[{"filter":"datum.kind==='h2'"}],"mark":{"type":"rule","yOffset":5.5},"encoding":{"y":{"field":"line","type":"nominal","axis":null}}}
]},
{"width":43,"height":294.4,"transform":[{"filter":"datum.p==='D'"}],"layer":[
{"transform":[{"filter":"datum.kind!=='h1' && isValid(datum.n2)"}],"mark":{"type":"text","align":"right","fontWeight":{"expr":"datum.kind==='h2'||datum.kind==='total'?'bold':'normal'"}},"encoding":{"x":{"value":"width"},"y":{"field":"line","type":"nominal","axis":null,"scale":{"type":"point","padding":0.5,"domain":["h1","h2","Aoki 2019","Han 2013","Kwon 2005","Lee 2010","Nakamura 2012","Ohnuki 2017","Thiraworawog 2024","Toyoda 2019","Uchiyama 2015","blank","total","events","het","test"]}},"text":{"field":"n2","type":"nominal"}}},
{"transform":[{"filter":"datum.kind==='h2'"}],"mark":{"type":"rule","yOffset":5.5},"encoding":{"y":{"field":"line","type":"nominal","axis":null}}}
]},
{"width":57,"height":294.4,"transform":[{"filter":"datum.p==='D'"}],"layer":[
{"transform":[{"filter":"(datum.kind==='study'||datum.kind==='total') && isValid(datum.w)"}],"mark":{"type":"text","align":"right","fontWeight":{"expr":"datum.kind==='total'?'bold':'normal'"}},"encoding":{"x":{"value":"width"},"y":{"field":"line","type":"nominal","axis":null,"scale":{"type":"point","padding":0.5,"domain":["h1","h2","Aoki 2019","Han 2013","Kwon 2005","Lee 2010","Nakamura 2012","Ohnuki 2017","Thiraworawog 2024","Toyoda 2019","Uchiyama 2015","blank","total","events","het","test"]}},"text":{"field":"w","type":"quantitative","format":".1%"}}},
{"transform":[{"filter":"datum.kind==='h2'"}],"mark":{"type":"text","align":"right","fontWeight":"bold"},"encoding":{"x":{"value":"width"},"y":{"field":"line","type":"nominal","axis":null},"text":{"field":"w","type":"nominal"}}},
{"transform":[{"filter":"datum.kind==='h2'"}],"mark":{"type":"rule","yOffset":5.5},"encoding":{"y":{"field":"line","type":"nominal","axis":null}}}
]},
{"width":133,"height":294.4,"transform":[{"filter":"datum.p==='D'"}],"layer":[
{"transform":[{"filter":"datum.kind==='study'||datum.kind==='total'"}],"mark":{"type":"text","align":"right","fontWeight":{"expr":"datum.kind==='total'?'bold':'normal'"}},"encoding":{"x":{"value":"width"},"y":{"field":"line","type":"nominal","axis":null,"scale":{"type":"point","padding":0.5,"domain":["h1","h2","Aoki 2019","Han 2013","Kwon 2005","Lee 2010","Nakamura 2012","Ohnuki 2017","Thiraworawog 2024","Toyoda 2019","Uchiyama 2015","blank","total","events","het","test"]}},"text":{"field":"ci","type":"nominal"}}},
{"transform":[{"filter":"datum.kind==='h1'"}],"mark":{"type":"text","align":"center","fontWeight":"bold"},"encoding":{"y":{"field":"line","type":"nominal","axis":null},"text":{"field":"ci","type":"nominal"}}},
{"transform":[{"filter":"datum.kind==='h2'"}],"mark":{"type":"text","align":"center","fontWeight":"bold","dx":9.5},"encoding":{"y":{"field":"line","type":"nominal","axis":null},"text":{"field":"ci","type":"nominal"}}},
{"transform":[{"filter":"datum.kind==='h2'"}],"mark":{"type":"rule","yOffset":5.5},"encoding":{"y":{"field":"line","type":"nominal","axis":null}}}
]},
{"width":362,"height":294.4,"transform":[{"filter":"datum.p==='D'"}],"layer":[
{"transform":[{"filter":"datum.kind==='h1'||datum.kind==='h2'"}],"mark":{"type":"text","align":"center","fontWeight":"bold"},"encoding":{"x":{"datum":1,"type":"quantitative","scale":{"type":"log","domain":[0.01,100],"range":[11,348],"clamp":true,"nice":false},"axis":{"orient":"bottom","offset":-33.6,"values":[0.01,0.1,1,10,100],"format":"~g","title":null,"grid":false,"labelFont":"Liberation Sans","labelFontSize":13.5,"labelColor":"#000","labelPadding":2,"labelFlush":false,"labelOverlap":false,"domainColor":"#000","domainWidth":1.2,"tickColor":"#000","tickWidth":1.2,"tickSize":5}},"y":{"field":"line","type":"nominal","axis":null,"scale":{"type":"point","padding":0.5,"domain":["h1","h2","Aoki 2019","Han 2013","Kwon 2005","Lee 2010","Nakamura 2012","Ohnuki 2017","Thiraworawog 2024","Toyoda 2019","Uchiyama 2015","blank","total","events","het","test"]}},"text":{"field":"ci","type":"nominal"}}},
{"transform":[{"filter":"datum.kind==='h2'"}],"mark":{"type":"rule","yOffset":5.5},"encoding":{"y":{"field":"line","type":"nominal","axis":null}}},
{"transform":[{"filter":"datum.kind==='h2'"}],"mark":{"type":"rule","yOffset":5.5,"y2Offset":-6},"encoding":{"x":{"datum":1,"type":"quantitative"},"y":{"field":"line","type":"nominal","axis":null},"y2":{"datum":"het"}}},
{"transform":[{"filter":"datum.kind==='study' && isValid(datum.rr)"}],"mark":{"type":"rule","strokeWidth":1.3,"color":"#1a1a1a"},"encoding":{"x":{"field":"lo","type":"quantitative","title":null},"x2":{"field":"hi"},"y":{"field":"line","type":"nominal","axis":null}}},
{"transform":[{"filter":"datum.kind==='study' && isValid(datum.rr)"}],"mark":{"type":"square","filled":true,"color":"#0000C8","opacity":1},"encoding":{"x":{"field":"rr","type":"quantitative","title":null},"y":{"field":"line","type":"nominal","axis":null},"size":{"field":"w","type":"quantitative","scale":{"type":"pow","exponent":1.5,"domain":[0,1],"range":[3,414]},"legend":null}}},
{"transform":[{"filter":"datum.kind==='total'"},{"fold":["lo","rr","hi"],"as":["k","v"]}],"mark":{"type":"trail","color":"#000"},"encoding":{"x":{"field":"v","type":"quantitative","title":null},"y":{"field":"line","type":"nominal","axis":null},"size":{"condition":{"test":"datum.k==='rr'","value":15},"value":0}}},
{"transform":[{"filter":"datum.line==='test'"}],"mark":{"type":"text","text":"Favours [experimental]","align":"right","dx":-9,"dy":5},"encoding":{"x":{"datum":1,"type":"quantitative"},"y":{"field":"line","type":"nominal","axis":null}}},
{"transform":[{"filter":"datum.line==='test'"}],"mark":{"type":"text","text":"Favours [control]","align":"left","dx":6,"dy":5},"encoding":{"x":{"datum":1,"type":"quantitative"},"y":{"field":"line","type":"nominal","axis":null}}}
]},

{"width":148,"height":218.4,"transform":[{"filter":"datum.p==='E'"}],"layer":[
{"transform":[{"filter":"datum.kind!=='h1'"}],"mark":{"type":"text","align":"left","dx":10,"fontWeight":{"expr":"datum.kind==='h2'||datum.kind==='total'?'bold':'normal'"}},"encoding":{"x":{"datum":"Study","type":"nominal","scale":{"type":"point","padding":0,"align":0},"axis":null},"y":{"field":"line","type":"nominal","axis":null,"scale":{"type":"point","padding":0.5,"domain":["h1","h2","Aoki 2019","Han 2013","Kwon 2005","Lee 2010","Thiraworawog 2024","blank","total","events","het","test"]}},"text":{"field":"s","type":"nominal"}}},
{"transform":[{"filter":"datum.kind==='h1'"}],"mark":{"type":"text","text":"E","align":"left","font":"Liberation Serif","fontSize":25,"dx":-17,"dy":-21},"encoding":{"x":{"datum":"Study","type":"nominal","axis":null},"y":{"field":"line","type":"nominal","axis":null}}},
{"transform":[{"filter":"datum.kind==='h2'"}],"mark":{"type":"rule","yOffset":5.5},"encoding":{"y":{"field":"line","type":"nominal","axis":null}}}
]},
{"width":55,"height":218.4,"transform":[{"filter":"datum.p==='E'"}],"layer":[
{"transform":[{"filter":"datum.kind!=='h1' && isValid(datum.e1)"}],"mark":{"type":"text","align":"right","dx":-3,"fontWeight":{"expr":"datum.kind==='h2'||datum.kind==='total'?'bold':'normal'"}},"encoding":{"x":{"value":"width"},"y":{"field":"line","type":"nominal","axis":null,"scale":{"type":"point","padding":0.5,"domain":["h1","h2","Aoki 2019","Han 2013","Kwon 2005","Lee 2010","Thiraworawog 2024","blank","total","events","het","test"]}},"text":{"field":"e1","type":"nominal"}}},
{"transform":[{"filter":"datum.kind==='h1'"}],"mark":{"type":"text","align":"center","fontWeight":"bold","dx":-10},"encoding":{"x":{"value":"width"},"y":{"field":"line","type":"nominal","axis":null},"text":{"field":"e1","type":"nominal"}}},
{"transform":[{"filter":"datum.kind==='h2'"}],"mark":{"type":"rule","yOffset":5.5},"encoding":{"y":{"field":"line","type":"nominal","axis":null}}}
]},
{"width":43,"height":218.4,"transform":[{"filter":"datum.p==='E'"}],"layer":[
{"transform":[{"filter":"datum.kind!=='h1' && isValid(datum.n1)"}],"mark":{"type":"text","align":"right","dx":-7,"fontWeight":{"expr":"datum.kind==='h2'||datum.kind==='total'?'bold':'normal'"}},"encoding":{"x":{"value":"width"},"y":{"field":"line","type":"nominal","axis":null,"scale":{"type":"point","padding":0.5,"domain":["h1","h2","Aoki 2019","Han 2013","Kwon 2005","Lee 2010","Thiraworawog 2024","blank","total","events","het","test"]}},"text":{"field":"n1","type":"nominal"}}},
{"transform":[{"filter":"datum.kind==='h2'"}],"mark":{"type":"rule","yOffset":5.5},"encoding":{"y":{"field":"line","type":"nominal","axis":null}}}
]},
{"width":57,"height":218.4,"transform":[{"filter":"datum.p==='E'"}],"layer":[
{"transform":[{"filter":"datum.kind!=='h1' && isValid(datum.e2)"}],"mark":{"type":"text","align":"right","dx":-8,"fontWeight":{"expr":"datum.kind==='h2'||datum.kind==='total'?'bold':'normal'"}},"encoding":{"x":{"value":"width"},"y":{"field":"line","type":"nominal","axis":null,"scale":{"type":"point","padding":0.5,"domain":["h1","h2","Aoki 2019","Han 2013","Kwon 2005","Lee 2010","Thiraworawog 2024","blank","total","events","het","test"]}},"text":{"field":"e2","type":"nominal"}}},
{"transform":[{"filter":"datum.kind==='h1'"}],"mark":{"type":"text","align":"center","fontWeight":"bold","dx":-13},"encoding":{"x":{"value":"width"},"y":{"field":"line","type":"nominal","axis":null},"text":{"field":"e2","type":"nominal"}}},
{"transform":[{"filter":"datum.kind==='h2'"}],"mark":{"type":"rule","yOffset":5.5},"encoding":{"y":{"field":"line","type":"nominal","axis":null}}}
]},
{"width":43,"height":218.4,"transform":[{"filter":"datum.p==='E'"}],"layer":[
{"transform":[{"filter":"datum.kind!=='h1' && isValid(datum.n2)"}],"mark":{"type":"text","align":"right","dx":-9,"fontWeight":{"expr":"datum.kind==='h2'||datum.kind==='total'?'bold':'normal'"}},"encoding":{"x":{"value":"width"},"y":{"field":"line","type":"nominal","axis":null,"scale":{"type":"point","padding":0.5,"domain":["h1","h2","Aoki 2019","Han 2013","Kwon 2005","Lee 2010","Thiraworawog 2024","blank","total","events","het","test"]}},"text":{"field":"n2","type":"nominal"}}},
{"transform":[{"filter":"datum.kind==='h2'"}],"mark":{"type":"rule","yOffset":5.5},"encoding":{"y":{"field":"line","type":"nominal","axis":null}}}
]},
{"width":57,"height":218.4,"transform":[{"filter":"datum.p==='E'"}],"layer":[
{"transform":[{"filter":"(datum.kind==='study'||datum.kind==='total') && isValid(datum.w)"}],"mark":{"type":"text","align":"right","dx":-8,"fontWeight":{"expr":"datum.kind==='total'?'bold':'normal'"}},"encoding":{"x":{"value":"width"},"y":{"field":"line","type":"nominal","axis":null,"scale":{"type":"point","padding":0.5,"domain":["h1","h2","Aoki 2019","Han 2013","Kwon 2005","Lee 2010","Thiraworawog 2024","blank","total","events","het","test"]}},"text":{"field":"w","type":"quantitative","format":".1%"}}},
{"transform":[{"filter":"datum.kind==='h2'"}],"mark":{"type":"text","align":"right","fontWeight":"bold","dx":-8},"encoding":{"x":{"value":"width"},"y":{"field":"line","type":"nominal","axis":null},"text":{"field":"w","type":"nominal"}}},
{"transform":[{"filter":"datum.kind==='h2'"}],"mark":{"type":"rule","yOffset":5.5},"encoding":{"y":{"field":"line","type":"nominal","axis":null}}}
]},
{"width":133,"height":218.4,"transform":[{"filter":"datum.p==='E'"}],"layer":[
{"transform":[{"filter":"datum.kind==='study'||datum.kind==='total'"}],"mark":{"type":"text","align":"right","dx":7,"fontWeight":{"expr":"datum.kind==='total'?'bold':'normal'"}},"encoding":{"x":{"value":"width"},"y":{"field":"line","type":"nominal","axis":null,"scale":{"type":"point","padding":0.5,"domain":["h1","h2","Aoki 2019","Han 2013","Kwon 2005","Lee 2010","Thiraworawog 2024","blank","total","events","het","test"]}},"text":{"field":"ci","type":"nominal"}}},
{"transform":[{"filter":"datum.kind==='h1'"}],"mark":{"type":"text","align":"center","fontWeight":"bold"},"encoding":{"y":{"field":"line","type":"nominal","axis":null},"text":{"field":"ci","type":"nominal"}}},
{"transform":[{"filter":"datum.kind==='h2'"}],"mark":{"type":"text","align":"center","fontWeight":"bold","dx":10.5},"encoding":{"y":{"field":"line","type":"nominal","axis":null},"text":{"field":"ci","type":"nominal"}}},
{"transform":[{"filter":"datum.kind==='h2'"}],"mark":{"type":"rule","yOffset":5.5},"encoding":{"y":{"field":"line","type":"nominal","axis":null}}}
]},
{"width":362,"height":218.4,"transform":[{"filter":"datum.p==='E'"}],"layer":[
{"transform":[{"filter":"datum.kind==='h1'||datum.kind==='h2'"}],"mark":{"type":"text","align":"center","fontWeight":"bold"},"encoding":{"x":{"datum":1,"type":"quantitative","scale":{"type":"log","domain":[0.01,100],"range":[20,349],"clamp":true,"nice":false},"axis":{"orient":"bottom","offset":-33.3,"values":[0.01,0.1,1,10,100],"format":"~g","title":null,"grid":false,"labelFont":"Liberation Sans","labelFontSize":13.5,"labelColor":"#000","labelPadding":2,"labelFlush":false,"labelOverlap":false,"domainColor":"#000","domainWidth":1.2,"tickColor":"#000","tickWidth":1.2,"tickSize":5}},"y":{"field":"line","type":"nominal","axis":null,"scale":{"type":"point","padding":0.5,"domain":["h1","h2","Aoki 2019","Han 2013","Kwon 2005","Lee 2010","Thiraworawog 2024","blank","total","events","het","test"]}},"text":{"field":"ci","type":"nominal"}}},
{"transform":[{"filter":"datum.kind==='h2'"}],"mark":{"type":"rule","yOffset":5.5},"encoding":{"y":{"field":"line","type":"nominal","axis":null}}},
{"transform":[{"filter":"datum.kind==='h2'"}],"mark":{"type":"rule","yOffset":5.5,"y2Offset":-6},"encoding":{"x":{"datum":1,"type":"quantitative"},"y":{"field":"line","type":"nominal","axis":null},"y2":{"datum":"het"}}},
{"transform":[{"filter":"datum.kind==='study' && isValid(datum.rr)"}],"mark":{"type":"rule","strokeWidth":1.3,"color":"#1a1a1a"},"encoding":{"x":{"field":"lo","type":"quantitative","title":null},"x2":{"field":"hi"},"y":{"field":"line","type":"nominal","axis":null}}},
{"transform":[{"filter":"datum.kind==='study' && isValid(datum.rr)"}],"mark":{"type":"square","filled":true,"color":"#0000C8","opacity":1},"encoding":{"x":{"field":"rr","type":"quantitative","title":null},"y":{"field":"line","type":"nominal","axis":null},"size":{"field":"w","type":"quantitative","scale":{"type":"pow","exponent":1.5,"domain":[0,1],"range":[3,414]},"legend":null}}},
{"transform":[{"filter":"datum.kind==='total'"},{"fold":["lo","rr","hi"],"as":["k","v"]}],"mark":{"type":"trail","color":"#000"},"encoding":{"x":{"field":"v","type":"quantitative","title":null},"y":{"field":"line","type":"nominal","axis":null},"size":{"condition":{"test":"datum.k==='rr'","value":15},"value":0}}},
{"transform":[{"filter":"datum.line==='test'"}],"mark":{"type":"text","text":"Favours [experimental]","align":"right","dx":-9,"dy":5},"encoding":{"x":{"datum":1,"type":"quantitative"},"y":{"field":"line","type":"nominal","axis":null}}},
{"transform":[{"filter":"datum.line==='test'"}],"mark":{"type":"text","text":"Favours [control]","align":"left","dx":6,"dy":5},"encoding":{"x":{"datum":1,"type":"quantitative"},"y":{"field":"line","type":"nominal","axis":null}}}
]}
]
}
